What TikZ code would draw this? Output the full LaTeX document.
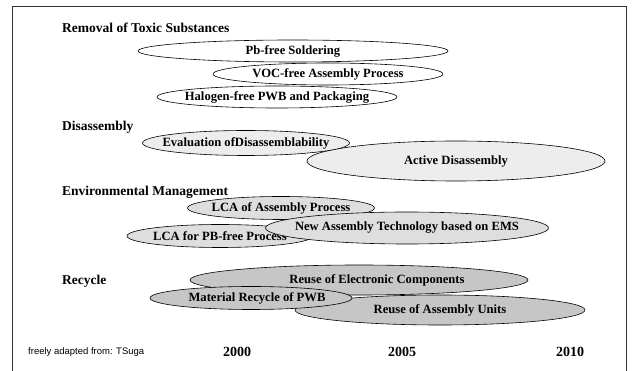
\documentclass[tikz,border=0pt]{standalone}
\usepackage{fontspec}
\setmainfont{Liberation Serif}
\newfontfamily\credfont{Liberation Sans}
\usetikzlibrary{shapes.geometric}
\newcommand{\zb}[1]{\makebox[0pt][c]{#1}}
\tikzset{
  ell/.style={ellipse, draw=black, line width=0.6pt, inner sep=0pt, font=\bfseries\fontsize{12.6}{14}\selectfont},
  white/.style={ell, fill=white},
  lightg/.style={ell, fill=gray!14},
  midg/.style={ell, fill=gray!26},
  darkg/.style={ell, fill=gray!45},
  cat/.style={anchor=west, inner sep=0pt, font=\bfseries\fontsize{13.5}{16}\selectfont},
  yr/.style={inner sep=0pt, font=\bfseries\fontsize{14}{16}\selectfont},
}
\begin{document}
\begin{tikzpicture}[x=1pt,y=-1pt]
\useasboundingbox (0,0) rectangle (633,371);
\draw[line width=0.8pt, black!80] (12,371) -- (12,6) -- (626,6) -- (626,371);

% Removal of Toxic Substances
\node[cat] (c1) at (62,28) {Removal of Toxic Substances};
\node[white, minimum width=310, minimum height=22] (pb) at (293,51) {\zb{Pb-free Soldering}};
\node[white, minimum width=230, minimum height=22] (voc) at (328,74) {\zb{VOC-free Assembly Process}};
\node[white, minimum width=240, minimum height=22] (hal) at (277,97) {\zb{Halogen-free PWB and Packaging}};

% Disassembly
\node[cat] (c2) at (62,127) {Disassembly};
\node[lightg, minimum width=298, minimum height=40] (act) at (456,161) {\zb{Active Disassembly}};
\node[lightg, minimum width=207, minimum height=25] (eva) at (246,143) {\zb{Evaluation ofDisassemblability}};

% Environmental Management
\node[cat] (c3) at (62,192) {Environmental Management};
\node[midg, minimum width=187, minimum height=23] (lca1) at (281,208) {\zb{LCA of Assembly Process}};
\node[midg, minimum width=186, minimum height=23] (lca2) at (220,236) {\zb{LCA for PB-free Process}};
\node[midg, minimum width=283, minimum height=32] (new) at (407,228) {\zb{New Assembly Technology based on EMS}};

% Recycle
\node[cat] (c4) at (62,281) {Recycle};
\node[darkg, minimum width=338, minimum height=30] (rec) at (359,280) {\zb{\hspace{36pt}Reuse of Electronic Components}};
\node[darkg, minimum width=290, minimum height=30] (rau) at (440,310) {\zb{Reuse of Assembly Units}};
\node[darkg, minimum width=202, minimum height=23] (mat) at (251,298) {\zb{\hspace{12pt}Material Recycle of PWB}};

% years and credit
\node[yr] (y1) at (237,352) {2000};
\node[yr] (y2) at (402,352) {2005};
\node[yr] (y3) at (570,352) {2010};
\node[anchor=west, inner sep=0pt, font=\credfont\fontsize{9.5}{11}\selectfont] (cr) at (28,352) {freely adapted from: TSuga};
\end{tikzpicture}
\end{document}
